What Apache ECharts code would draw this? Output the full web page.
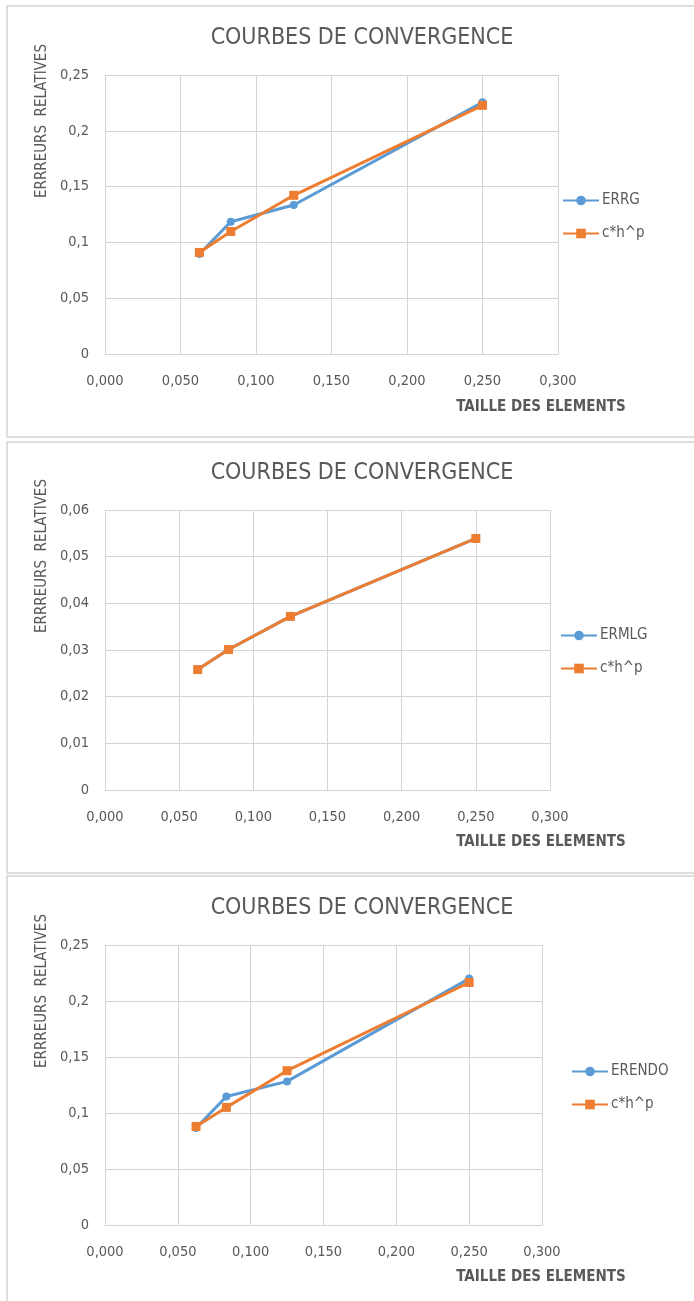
<!DOCTYPE html>
<html>
<head>
<meta charset="utf-8">
<script src="https://cdn.jsdelivr.net/npm/echarts@6/dist/echarts.min.js"></script>
<style>
  html, body { margin: 0; padding: 0; background: #ffffff; }
  #wrap { position: relative; width: 694px; height: 1301px; overflow: hidden; }
  .box { position: absolute; left: 6px; width: 720px; border: 2px solid #dedede; box-sizing: border-box; }
  #chart { position: absolute; left: 0; top: 0; width: 694px; height: 1301px; }
</style>
</head>
<body>
<div id="wrap">
  <div class="box" style="top:5px;height:433px;"></div>
  <div class="box" style="top:441px;height:433px;"></div>
  <div class="box" style="top:875px;height:460px;"></div>
  <div id="chart"></div>
</div>
<script>
// ---- data ----
const chartTitle = 'COURBES DE CONVERGENCE';
const yAxisTitle = 'ERRREURS  RELATIVES';
const xAxisTitle = 'TAILLE DES ELEMENTS';
const hValues = [0.0625, 0.0833, 0.125, 0.25];
const errg    = [0.0895, 0.1185, 0.1335, 0.2255];
const fitG    = [0.0910, 0.1098, 0.1422, 0.2228];
const ermlg   = [0.0258, 0.0301, 0.0372, 0.0539];
const fitMLG  = [0.0258, 0.0301, 0.0372, 0.0539];
const erendo  = [0.0866, 0.1148, 0.1282, 0.2200];
const fitENDO = [0.0880, 0.1050, 0.1378, 0.2165];
const seriesNames = [['ERRG', 'c*h^p'], ['ERMLG', 'c*h^p'], ['ERENDO', 'c*h^p']];
const yMax = [0.25, 0.06, 0.25];
const yStep = [0.05, 0.01, 0.05];
const xMax = 0.3, xStep = 0.05;

const FONT = '"Liberation Sans Narrow", "DejaVu Sans Condensed", "Liberation Sans", sans-serif';
const GRAY = '#595959';
const BLUE = '#5B9BD5';
const ORANGE = '#ED7D31';

const panels = [
  { top: 75,  height: 279, left: 105, width: 453, legendLeft: 562, legendTop: 193, ser: [errg, fitG] },
  { top: 510, height: 280, left: 105, width: 445, legendLeft: 560, legendTop: 628, ser: [ermlg, fitMLG] },
  { top: 945, height: 280, left: 105, width: 437, legendLeft: 571, legendTop: 1064, ser: [erendo, fitENDO] }
];
const offsets = [0, 435, 870];

const pair = (xs, ys) => xs.map((x, i) => [x, ys[i]]);
const fmtY = v => String(+v.toFixed(4)).replace('.', ',');
const fmtX = v => v.toFixed(3).replace('.', ',');

const option = {
  animation: false,
  textStyle: { fontFamily: FONT },
  title: offsets.map(o => ({
    text: chartTitle, left: 357, top: o + 22, textAlign: 'center',
    textStyle: { fontFamily: FONT, fontSize: 23, fontWeight: 'normal', color: GRAY }
  })),
  graphic: offsets.flatMap(o => [
    { type: 'text', x: 42, y: o + 121, rotation: Math.PI / 2,
      style: { text: yAxisTitle, font: '15px ' + FONT, fill: GRAY, align: 'center', verticalAlign: 'middle' } },
    { type: 'text', x: 541, y: o + 407,
      style: { text: xAxisTitle, font: 'bold 15px ' + FONT, fill: GRAY, align: 'center', verticalAlign: 'middle' } }
  ]),
  legend: panels.map((p, i) => ({
    orient: 'vertical', left: p.legendLeft, top: p.legendTop, padding: 0,
    itemWidth: 36, itemHeight: 12, itemGap: 18,
    textStyle: { fontFamily: FONT, fontSize: 15, color: GRAY, padding: [0, 0, 0, -2] },
    data: seriesNames[i]
  })),
  grid: panels.map(p => ({ left: p.left, top: p.top, width: p.width, height: p.height })),
  xAxis: panels.map((p, i) => ({
    type: 'value', gridIndex: i, min: 0, max: xMax, interval: xStep,
    axisLine: { show: true, lineStyle: { color: '#d4d4d4', width: 1 } },
    axisTick: { show: false },
    splitLine: { show: true, lineStyle: { color: '#d4d4d4', width: 1 } },
    axisLabel: { formatter: fmtX, color: GRAY, fontSize: 14.5, fontFamily: FONT, margin: 20 }
  })),
  yAxis: panels.map((p, i) => ({
    type: 'value', gridIndex: i, min: 0, max: yMax[i], interval: yStep[i],
    axisLine: { show: true, lineStyle: { color: '#d4d4d4', width: 1 } },
    axisTick: { show: false },
    splitLine: { show: true, lineStyle: { color: '#d4d4d4', width: 1 } },
    axisLabel: { formatter: fmtY, color: GRAY, fontSize: 14.5, fontFamily: FONT, margin: 16 }
  })),
  series: panels.flatMap((p, i) => [
    { type: 'line', name: seriesNames[i][0], xAxisIndex: i, yAxisIndex: i,
      data: pair(hValues, p.ser[0]), symbol: 'circle', symbolSize: 8,
      lineStyle: { color: BLUE, width: 3 }, itemStyle: { color: BLUE } },
    { type: 'line', name: seriesNames[i][1], xAxisIndex: i, yAxisIndex: i,
      data: pair(hValues, p.ser[1]), symbol: 'rect', symbolSize: 9,
      lineStyle: { color: ORANGE, width: 3 }, itemStyle: { color: ORANGE } }
  ])
};

const chart = echarts.init(document.getElementById('chart'), null, { renderer: 'canvas' });
chart.setOption(option);
</script>
</body>
</html>
